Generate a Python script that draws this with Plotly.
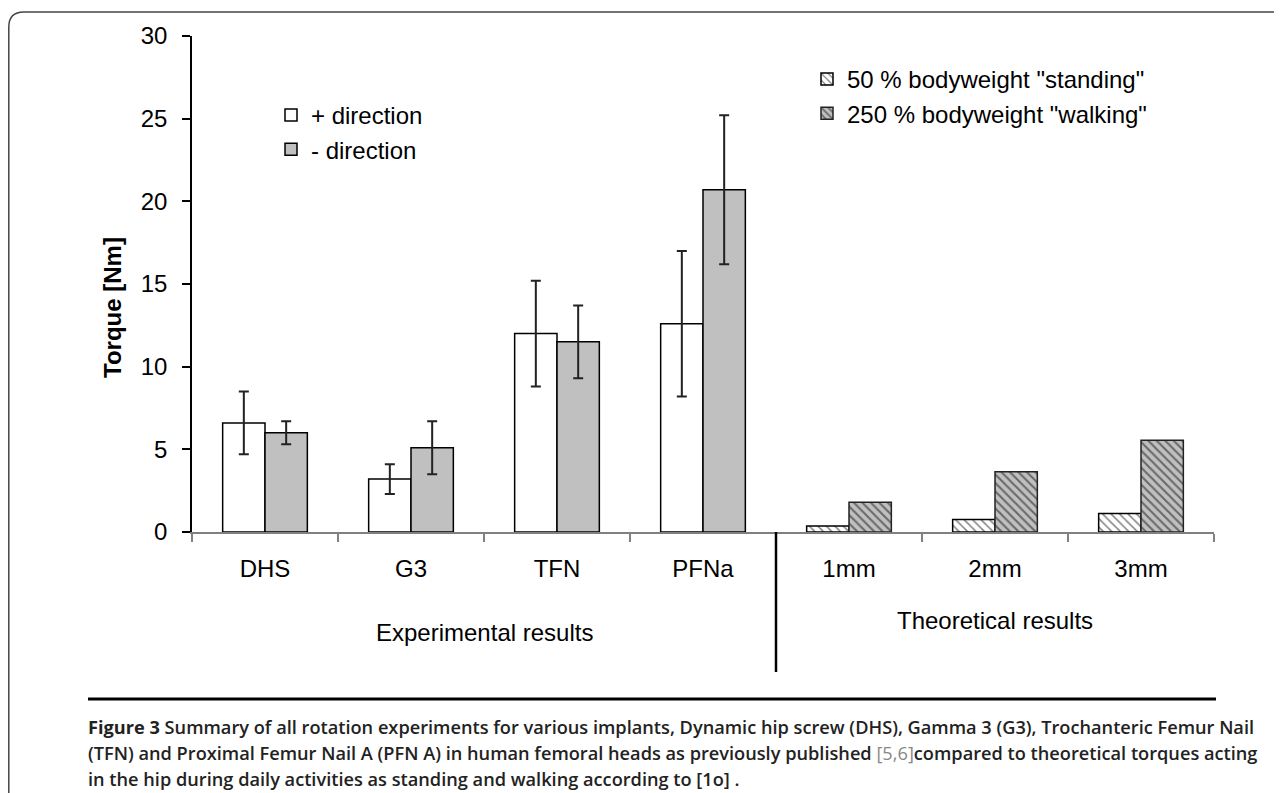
import plotly.graph_objects as go

# ---------------- data ----------------
all_categories = ["DHS", "G3", "TFN", "PFNa", "1mm", "2mm", "3mm"]
exp_categories = ["DHS", "G3", "TFN", "PFNa"]
plus_vals = [6.6, 3.2, 12.0, 12.6]
plus_err = [1.9, 0.9, 3.2, 4.4]
minus_vals = [6.0, 5.1, 11.5, 20.7]
minus_err = [0.7, 1.6, 2.2, 4.5]
theo_categories = ["1mm", "2mm", "3mm"]
standing_vals = [0.36, 0.76, 1.12]
walking_vals = [1.8, 3.64, 5.55]
y_ticks = [0, 5, 10, 15, 20, 25, 30]

# ---------------- geometry helpers (page pixel coords) ----------------
OFF = 8                     # default body margin of the html page
W, H = 1282 - OFF, 793 - OFF
L, R, T, B = 192, 1214, 36, 532   # plot area in page pixels


def px(x):
    return (x - L) / (R - L)


def py(y):
    return (B - y) / (B - T)


FONT = "Liberation Sans, Arial, sans-serif"
GREY = "#c0c0c0"
BW = 0.29

fig = go.Figure()

err_style = dict(type="data", visible=True, color="#222222", thickness=2, width=5)

fig.add_trace(go.Bar(
    x=exp_categories, y=plus_vals, name="+ direction",
    marker=dict(color="white", line=dict(color="black", width=1.5)),
    width=BW, offset=-BW,
    error_y=dict(array=plus_err, **err_style),
    legend="legend",
))
fig.add_trace(go.Bar(
    x=exp_categories, y=minus_vals, name="- direction",
    marker=dict(color=GREY, line=dict(color="black", width=1.5)),
    width=BW, offset=0,
    error_y=dict(array=minus_err, **err_style),
    legend="legend",
))
fig.add_trace(go.Bar(
    x=theo_categories, y=standing_vals, name='50 % bodyweight "standing"',
    marker=dict(color="white", line=dict(color="black", width=1.5),
                pattern=dict(shape="\\", fgcolor="black", bgcolor="white",
                             size=6, solidity=0.25)),
    width=BW, offset=-BW,
    legend="legend2",
))
fig.add_trace(go.Bar(
    x=theo_categories, y=walking_vals, name='250 % bodyweight "walking"',
    marker=dict(color=GREY, line=dict(color="#222222", width=1.5),
                pattern=dict(shape="\\", fgcolor="#111111", bgcolor=GREY,
                             size=6, solidity=0.35)),
    width=BW, offset=0,
    legend="legend2",
))

fig.update_layout(
    width=W, height=H,
    margin=dict(l=L - OFF, r=W + OFF - R, t=T - OFF, b=H + OFF - B, pad=0),
    paper_bgcolor="white", plot_bgcolor="white",
    barmode="overlay",
    font=dict(family=FONT, size=24, color="black"),
    xaxis=dict(
        type="category", categoryorder="array", categoryarray=all_categories,
        range=[-0.5, 6.5], showline=True, linecolor="#808080", linewidth=1.5,
        ticks="outside", tickson="boundaries", ticklen=8, tickcolor="#808080",
        tickwidth=1.5, showgrid=False, zeroline=False,
        tickfont=dict(family=FONT, size=24, color="black"),
        ticklabelstandoff=14,
    ),
    yaxis=dict(
        range=[0, 30], tickvals=y_ticks, showline=True, linecolor="black",
        linewidth=1.5, ticks="outside", ticklen=8, tickcolor="black",
        tickwidth=1.5, showgrid=False, zeroline=False,
        tickfont=dict(family=FONT, size=24, color="black"),
        ticklabelstandoff=10,
    ),
    legend=dict(
        x=px(271), y=py(93), xanchor="left", yanchor="top",
        bgcolor="rgba(0,0,0,0)", font=dict(family=FONT, size=24),
        traceorder="normal",
    ),
    legend2=dict(
        x=px(807), y=py(57), xanchor="left", yanchor="top",
        bgcolor="rgba(0,0,0,0)", font=dict(family=FONT, size=24),
        traceorder="normal",
    ),
    showlegend=True,
)

annotations = [
    dict(text="<b>Torque [Nm]</b>", x=px(112), y=py(308), xref="paper", yref="paper",
         textangle=-90, showarrow=False, font=dict(family=FONT, size=24),
         xanchor="center", yanchor="middle"),
    dict(text="Experimental results", x=px(484), y=py(632), xref="paper", yref="paper",
         showarrow=False, font=dict(family=FONT, size=24), xanchor="center", yanchor="middle"),
    dict(text="Theoretical results", x=px(995), y=py(620), xref="paper", yref="paper",
         showarrow=False, font=dict(family=FONT, size=24), xanchor="center", yanchor="middle"),
]

CAP_FONT = "Open Sans, Noto Sans, sans-serif"
cap_lines = [
    "<b>Figure 3</b> Summary of all rotation experiments for various implants, Dynamic hip screw (DHS), Gamma 3 (G3), Trochanteric Femur Nail",
    "(TFN) and Proximal Femur Nail A (PFN A) in human femoral heads as previously published <span style=\"color:#888888;font-weight:400\">[5,6]</span>compared to theoretical torques acting",
    "in the hip during daily activities as standing and walking according to [1o] .",
]
cap_y = [727, 753, 779]
for t, yy in zip(cap_lines, cap_y):
    annotations.append(dict(
        text=t, x=px(86), y=py(yy), xref="paper", yref="paper", showarrow=False,
        xanchor="left", yanchor="middle", align="left",
        font=dict(family=CAP_FONT, size=18.2, color="#222222", weight=600),
    ))
fig.update_layout(annotations=annotations)

shapes = [
    # long divider between experimental and theoretical groups
    dict(type="line", xref="x", yref="paper", x0=3.5, x1=3.5, y0=0, y1=py(672),
         line=dict(color="black", width=2.5)),
    # caption rule
    dict(type="line", xref="paper", yref="paper", x0=px(88), x1=px(1216),
         y0=py(699), y1=py(699), line=dict(color="black", width=3)),
    # rounded frame (left and top edges)
    dict(type="path", xref="paper", yref="paper",
         path=(f"M{px(8.8)},{py(800)} L{px(8.8)},{py(27)} Q{px(8.8)},{py(12)} {px(23.8)},{py(12)} "
               f"L{px(1290)},{py(12)}"),
         line=dict(color="#444444", width=1.5)),
]
fig.update_layout(shapes=shapes)

fig.write_html("out.html")
